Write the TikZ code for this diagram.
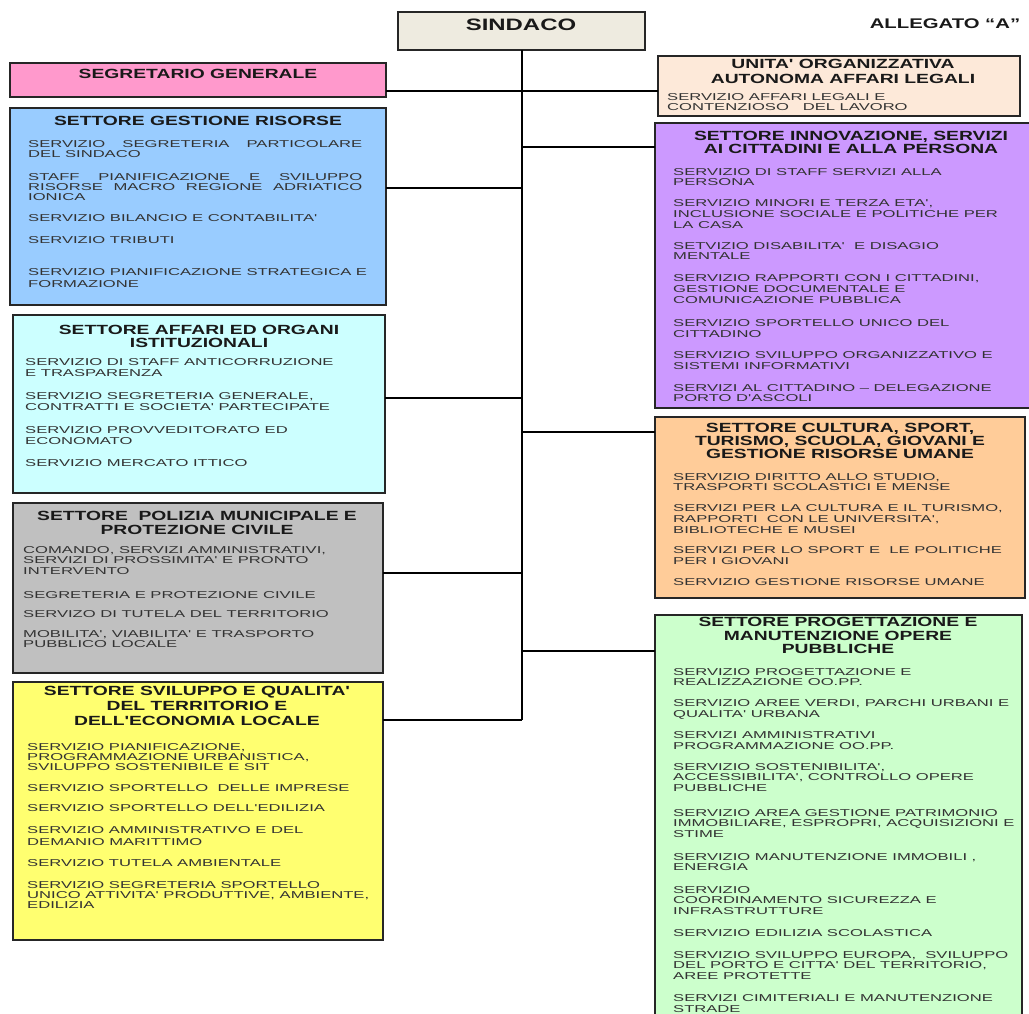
\documentclass[tikz,border=0pt]{standalone}
\usepackage{fontspec}
\setmainfont{Liberation Sans}
\newfontfamily\titfont[FakeStretch=1.45]{Liberation Sans}
\newfontfamily\svcfont[FakeStretch=1.66]{Liberation Sans}
\definecolor{csind}{HTML}{EEEBE0}
\definecolor{cpink}{HTML}{FF99CC}
\definecolor{cpeach}{HTML}{FDE9D9}
\definecolor{cblue}{HTML}{99CCFF}
\definecolor{ccyan}{HTML}{CCFFFF}
\definecolor{cgrey}{HTML}{C0C0C0}
\definecolor{cyell}{HTML}{FFFF70}
\definecolor{cpurp}{HTML}{CC99FF}
\definecolor{corng}{HTML}{FFCC99}
\definecolor{cgreen}{HTML}{CCFFCC}
\begin{document}
\begin{tikzpicture}[x=1pt,y=-1pt,
  box/.style={draw=black!85, line width=1.4pt, anchor=north west, inner sep=0pt, outer sep=0pt},
  tit/.style={font=\titfont\bfseries\fontsize{13.3}{13.3}\selectfont, align=center, inner sep=0pt, anchor=north, yshift=4.75pt, text=black!90},
  svc/.style={font=\svcfont\fontsize{10}{10.8}\selectfont, align=left, inner sep=0pt, anchor=north west, yshift=3.6pt, text=black!80},
  link/.style={draw=black, line width=1.2pt}]
\useasboundingbox (0,0) rectangle (1029,1014);
\begin{scope}
\clip (0,0) rectangle (1029,1014);
% boxes
\node[box, fill=csind, minimum width=247pt, minimum height=38pt] (sind) at (398,12) {};
\node[box, fill=cpink, minimum width=376pt, minimum height=34pt] (sg) at (10,63) {};
\node[box, fill=cpeach, minimum width=362pt, minimum height=60pt] (ua) at (658,56) {};
\node[box, fill=cblue, minimum width=376pt, minimum height=197pt] (gr) at (10,108) {};
\node[box, fill=ccyan, minimum width=372pt, minimum height=178pt] (ao) at (13,315) {};
\node[box, fill=cgrey, minimum width=370pt, minimum height=170pt] (pm) at (13,503) {};
\node[box, fill=cyell, minimum width=370pt, minimum height=258pt] (sq) at (13,682) {};
\node[box, fill=cpurp, minimum width=385pt, minimum height=285pt] (in) at (655,123) {};
\node[box, fill=corng, minimum width=370pt, minimum height=181pt] (cu) at (655,417) {};
\node[box, fill=cgreen, minimum width=367pt, minimum height=420pt] (pr) at (655,615) {};
% spine and connectors
\coordinate (j0) at (522,91);
\coordinate (j1) at (522,188);
\coordinate (j2) at (522,398);
\coordinate (j3) at (522,573);
\coordinate (j4) at (522,720);
\coordinate (k1) at (522,147);
\coordinate (k2) at (522,432);
\coordinate (k3) at (522,651);
\draw[link] (sind.south -| j0) -- (j4);
\draw[link] (sg.east |- j0) -- (ua.west |- j0);
\draw[link] (gr.east |- j1) -- (j1);
\draw[link] (ao.east |- j2) -- (j2);
\draw[link] (pm.east |- j3) -- (j3);
\draw[link] (sq.east |- j4) -- (j4);
\draw[link] (k1) -- (in.west |- k1);
\draw[link] (k2) -- (cu.west |- k2);
\draw[link] (k3) -- (pr.west |- k3);
\end{scope}
% headings
\node[font=\titfont\bfseries\fontsize{16.5}{16.5}\selectfont, inner sep=0pt, text=black!90] (tsind) at (521,24.5) {SINDACO};
\node[font=\titfont\bfseries\fontsize{14}{14}\selectfont, inner sep=0pt, text=black!90] (alleg) at (945,23.5) {ALLEGATO “A”};
\node[tit] (tsg) at (198,74) {SEGRETARIO GENERALE};
\node[tit, font=\titfont\bfseries\fontsize{13.3}{15}\selectfont] (tua) at (843,63.5) {UNITA' ORGANIZZATIVA\\AUTONOMA AFFARI LEGALI};
\node[tit] (tgr) at (198,121) {SETTORE GESTIONE RISORSE};
\node[tit] (tao) at (199,329.5) {SETTORE AFFARI ED ORGANI\\ISTITUZIONALI};
\node[tit] (tpm) at (197,516) {SETTORE~ POLIZIA MUNICIPALE E\\PROTEZIONE CIVILE};
\node[tit, font=\titfont\bfseries\fontsize{13.3}{15}\selectfont] (tsq) at (197,691) {SETTORE SVILUPPO E QUALITA'\\DEL TERRITORIO E\\DELL'ECONOMIA LOCALE};
\node[tit] (tin) at (851,135.5) {SETTORE INNOVAZIONE, SERVIZI\\AI CITTADINI E ALLA PERSONA};
\node[tit] (tcu) at (840,427.5) {SETTORE CULTURA, SPORT,\\TURISMO, SCUOLA, GIOVANI E\\GESTIONE RISORSE UMANE};
\node[tit] (tpr) at (838,622) {SETTORE PROGETTAZIONE E\\MANUTENZIONE OPERE\\PUBBLICHE};
% services: unita'
\node[svc] (ua1) at (667,96.5) {SERVIZIO AFFARI LEGALI E\\CONTENZIOSO~~ DEL LAVORO};
% gestione risorse
\node[svc] (gr1) at (28,143.5) {\makebox[334pt][s]{SERVIZIO SEGRETERIA PARTICOLARE}\\DEL SINDACO};
\node[svc, font=\svcfont\fontsize{10}{10.2}\selectfont] (gr2) at (28,176.5) {\makebox[334pt][s]{STAFF PIANIFICAZIONE E SVILUPPO}\\\makebox[334pt][s]{RISORSE MACRO REGIONE ADRIATICO}\\IONICA};
\node[svc] (gr3) at (28,218) {SERVIZIO BILANCIO E CONTABILITA'};
\node[svc] (gr4) at (28,240) {SERVIZIO TRIBUTI};
\node[svc, font=\svcfont\fontsize{10}{12}\selectfont] (gr5) at (28,272) {SERVIZIO PIANIFICAZIONE STRATEGICA E\\FORMAZIONE};
% affari ed organi
\begin{scope}[every node/.append style={font=\svcfont\fontsize{10}{12}\selectfont}]
\node[svc] (ao1) at (25,362) {SERVIZIO DI STAFF ANTICORRUZIONE\\E TRASPARENZA};
\node[svc] (ao2) at (25,396) {SERVIZIO SEGRETERIA GENERALE,\\CONTRATTI E SOCIETA' PARTECIPATE};
\node[svc] (ao3) at (25,430) {SERVIZIO PROVVEDITORATO ED\\ECONOMATO};
\node[svc] (ao4) at (25,463) {SERVIZIO MERCATO ITTICO};
\end{scope}
% polizia
\begin{scope}[every node/.append style={font=\svcfont\fontsize{10}{11.5}\selectfont}]
\node[svc] (pm1) at (23,549.5) {COMANDO, SERVIZI AMMINISTRATIVI,\\SERVIZI DI PROSSIMITA' E PRONTO\\INTERVENTO};
\node[svc] (pm2) at (23,594.5) {SEGRETERIA E PROTEZIONE CIVILE};
\node[svc] (pm3) at (23,613.5) {SERVIZO DI TUTELA DEL TERRITORIO};
\node[svc] (pm4) at (23,633.5) {MOBILITA', VIABILITA' E TRASPORTO\\PUBBLICO LOCALE};
\end{scope}
% sviluppo e qualita'
\node[svc, font=\svcfont\fontsize{10}{10.4}\selectfont] (sq1) at (27,746.5) {SERVIZIO PIANIFICAZIONE,\\PROGRAMMAZIONE URBANISTICA,\\SVILUPPO SOSTENIBILE E SIT};
\node[svc] (sq2) at (27,788) {SERVIZIO SPORTELLO~ DELLE IMPRESE};
\node[svc] (sq3) at (27,808) {SERVIZIO SPORTELLO DELL'EDILIZIA};
\node[svc, font=\svcfont\fontsize{10}{11.5}\selectfont] (sq4) at (27,830) {SERVIZIO AMMINISTRATIVO E DEL\\DEMANIO MARITTIMO};
\node[svc] (sq5) at (27,862.5) {SERVIZIO TUTELA AMBIENTALE};
\node[svc, font=\svcfont\fontsize{10}{10.4}\selectfont] (sq6) at (27,884.5) {SERVIZIO SEGRETERIA SPORTELLO\\UNICO ATTIVITA' PRODUTTIVE, AMBIENTE,\\EDILIZIA};
% innovazione
\node[svc] (in1) at (673,171.5) {SERVIZIO DI STAFF SERVIZI ALLA\\PERSONA};
\node[svc] (in2) at (673,203) {SERVIZIO MINORI E TERZA ETA',\\INCLUSIONE SOCIALE E POLITICHE PER\\LA CASA};
\node[svc] (in3) at (673,245.5) {SETVIZIO DISABILITA'~ E DISAGIO\\MENTALE};
\node[svc] (in4) at (673,278) {SERVIZIO RAPPORTI CON I CITTADINI,\\GESTIONE DOCUMENTALE E\\COMUNICAZIONE PUBBLICA};
\node[svc] (in5) at (673,323) {SERVIZIO SPORTELLO UNICO DEL\\CITTADINO};
\node[svc] (in6) at (673,355) {SERVIZIO SVILUPPO ORGANIZZATIVO E\\SISTEMI INFORMATIVI};
\node[svc] (in7) at (673,387.5) {SERVIZI AL CITTADINO – DELEGAZIONE\\PORTO D'ASCOLI};
% cultura
\node[svc] (cu1) at (673,476.5) {SERVIZIO DIRITTO ALLO STUDIO,\\TRASPORTI SCOLASTICI E MENSE};
\node[svc] (cu2) at (673,508) {SERVIZI PER LA CULTURA E IL TURISMO,\\RAPPORTI~ CON LE UNIVERSITA',\\BIBLIOTECHE E MUSEI};
\node[svc] (cu3) at (673,550) {SERVIZI PER LO SPORT E~ LE POLITICHE\\PER I GIOVANI};
\node[svc] (cu4) at (673,582) {SERVIZIO GESTIONE RISORSE UMANE};
% progettazione
\node[svc] (pr1) at (673,671.5) {SERVIZIO PROGETTAZIONE E\\REALIZZAZIONE OO.PP.};
\node[svc] (pr2) at (673,703) {SERVIZIO AREE VERDI, PARCHI URBANI E\\QUALITA' URBANA};
\node[svc] (pr3) at (673,735) {SERVIZI AMMINISTRATIVI\\PROGRAMMAZIONE OO.PP.};
\node[svc] (pr4) at (673,766.5) {SERVIZIO SOSTENIBILITA',\\ACCESSIBILITA', CONTROLLO OPERE\\PUBBLICHE};
\node[svc] (pr5) at (673,812.5) {SERVIZIO AREA GESTIONE PATRIMONIO\\IMMOBILIARE, ESPROPRI, ACQUISIZIONI E\\STIME};
\node[svc] (pr6) at (673,856.5) {SERVIZIO MANUTENZIONE IMMOBILI ,\\ENERGIA};
\node[svc] (pr7) at (673,889.5) {SERVIZIO\\COORDINAMENTO SICUREZZA E\\INFRASTRUTTURE};
\node[svc] (pr8) at (673,932.5) {SERVIZIO EDILIZIA SCOLASTICA};
\node[svc] (pr9) at (673,954.5) {SERVIZIO SVILUPPO EUROPA,~ SVILUPPO\\DEL PORTO E CITTA' DEL TERRITORIO,\\AREE PROTETTE};
\node[svc] (pr10) at (673,998) {SERVIZI CIMITERIALI E MANUTENZIONE\\STRADE};
\end{tikzpicture}
\end{document}
